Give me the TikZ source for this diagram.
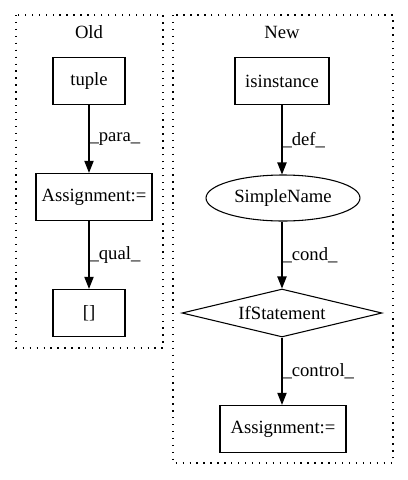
\documentclass[tikz,border=0pt]{standalone}
\usepackage{fontspec}
\setmainfont{Liberation Serif}
\usetikzlibrary{arrows.meta,shapes.geometric}
\begin{document}
\begin{tikzpicture}[x=0.75pt,y=-0.75pt,
  every node/.style={font=\fontsize{14pt}{16pt}\selectfont},
  boxnode/.style={draw,line width=0.8pt,rectangle,minimum height=35.5pt,inner sep=0pt},
  ellnode/.style={draw,line width=0.8pt,ellipse,minimum width=115.5pt,minimum height=34.5pt,inner sep=0pt},
  dianode/.style={draw,line width=0.8pt,diamond,aspect=4.17,minimum width=150pt,minimum height=36pt,inner sep=0pt},
  cluster/.style={draw,line width=0.9pt,dash pattern=on 1pt off 4.2pt},
  edge/.style={draw,line width=0.8pt,-{Triangle[length=9pt,width=7pt]}},
  elabel/.style={anchor=west,inner sep=0pt,pos=0.5}]
\useasboundingbox (0,0) rectangle (408,480);
% clusters
\draw[cluster] (16,15) rectangle (163,348);
\draw[cluster] (173,15) rectangle (393,463);
\node (oldlbl) at (89,32) {Old};
\node (newlbl) at (282,32) {New};
% old
\node[boxnode,minimum width=54pt] (tuple) at (89,81) {tuple};
\node[boxnode,minimum width=87pt] (asgA) at (94,197) {Assignment:=};
\node[boxnode,minimum width=54pt] (sq) at (89,313) {[]};
% new
\node[boxnode,minimum width=70.5pt] (isin) at (282,81) {isinstance};
\node[ellnode] (simple) at (283,198) {SimpleName};
\node[dianode] (ifst) at (282,313) {IfStatement};
\node[boxnode,minimum width=94.5pt] (asgB) at (283,429) {Assignment:=};
% edges
\draw[edge] (tuple.south) -- (tuple.south |- asgA.north) node[elabel] {\_para\_};
\draw[edge] (sq.north |- asgA.south) -- (sq.north) node[elabel] {\_qual\_};
\draw[edge] (isin.south) -- (isin.south |- simple.north) node[elabel] {\_def\_};
\draw[edge] (ifst.north |- simple.south) -- (ifst.north) node[elabel] {\_cond\_};
\draw[edge] (ifst.south) -- (ifst.south |- asgB.north) node[elabel] {\_control\_};
\end{tikzpicture}
\end{document}
